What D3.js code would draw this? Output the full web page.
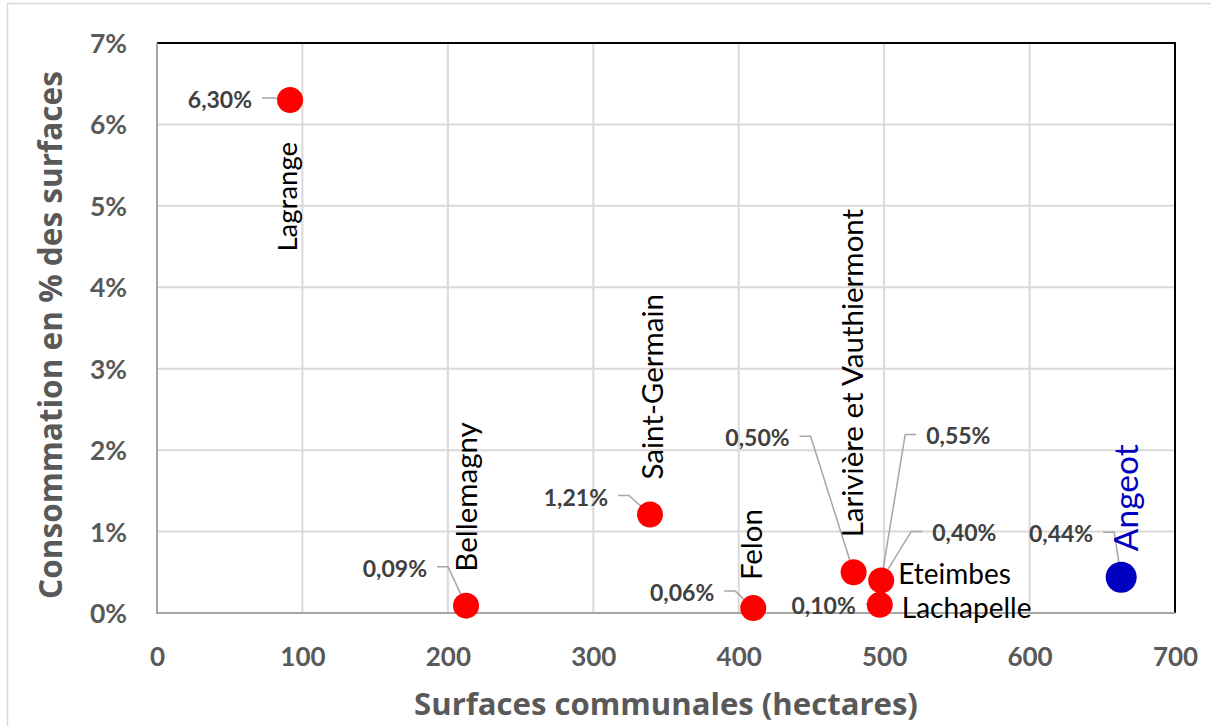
<!DOCTYPE html>
<html>
<head>
<meta charset="utf-8">
<script src="https://cdn.jsdelivr.net/npm/d3@7"></script>
<style>
  html, body { margin: 0; padding: 0; background: #fff; }
  svg { display: block; font-family: Lato, "Open Sans", sans-serif; }
</style>
</head>
<body>
<svg id="chart" width="1211" height="726"></svg>
<script>
// Communes: surface (hectares) and land consumption (share of surface)
const communes = ["Lagrange", "Bellemagny", "Saint-Germain", "Felon",
  "Larivière et Vauthiermont", "Eteimbes", "Lachapelle", "Angeot"];
const surfaces = [91.5, 212.5, 339, 410, 479, 498, 497, 663];
const consommation = [0.0630, 0.0009, 0.0121, 0.0006, 0.0050, 0.0040, 0.0010, 0.0044];
const highlight = [false, false, false, false, false, false, false, true];

// Extra callout value attached to the Eteimbes marker
const extraCallouts = [{ commune: "Eteimbes", value: 0.0055 }];

const xTicks = [0, 100, 200, 300, 400, 500, 600, 700];
const yTicks = [0, 0.01, 0.02, 0.03, 0.04, 0.05, 0.06, 0.07];
const xTitle = "Surfaces communales (hectares)";
const yTitle = "Consommation en % des surfaces";

// Label placement, in pixels relative to each marker centre
const namePlacement = {
  "Lagrange":                  { rot: true,  dx: 7,  dy: 42,  anchor: "end",   size: 27.5 },
  "Bellemagny":                { rot: true,  dx: 11, dy: -34, anchor: "start", size: 29.5 },
  "Saint-Germain":             { rot: true,  dx: 13, dy: -35, anchor: "start", size: 29.5 },
  "Felon":                     { rot: true,  dx: 9,  dy: -28, anchor: "start", size: 29.5 },
  "Larivière et Vauthiermont": { rot: true,  dx: 9,  dy: -35, anchor: "start", size: 29.5 },
  "Eteimbes":                  { rot: false, dx: 17, dy: 4,   anchor: "start", size: 28 },
  "Lachapelle":                { rot: false, dx: 22, dy: 13,  anchor: "start", size: 28 },
  "Angeot":                    { rot: true,  dx: 17, dy: -26, anchor: "start", size: 33.5 }
};
// value label: tx,ty = text anchor point relative to the marker
const valuePlacement = {
  "Lagrange":                  { tx: -38, ty: 0,    anchor: "end" },
  "Bellemagny":                { tx: -39, ty: -37,  anchor: "end" },
  "Saint-Germain":             { tx: -42, ty: -17,  anchor: "end" },
  "Felon":                     { tx: -39, ty: -15,  anchor: "end" },
  "Larivière et Vauthiermont": { tx: -64, ty: -134, anchor: "end" },
  "Eteimbes":                  { tx: 51,  ty: -47,  anchor: "start" },
  "Lachapelle":                { tx: -24, ty: 1,    anchor: "end", short: true },
  "Angeot":                    { tx: -28, ty: -43,  anchor: "end" }
};
const extraPlacement = [{ tx: 45, ty: -144, anchor: "start" }];

const svg = d3.select("#chart");
const plot = { left: 157, right: 1175, top: 43, bottom: 613 };

const x = d3.scaleLinear().domain([0, 700]).range([plot.left, plot.right]);
const y = d3.scaleLinear().domain([0, 0.07]).range([plot.bottom, plot.top]);

const fmtPct = v => d3.format(".2f")(v * 100).replace(".", ",") + "%";

// scale a text's font size so that it spans the given width
function fitWidth(sel, width) {
  const node = sel.node();
  const fs = parseFloat(sel.attr("font-size"));
  const w = node.getComputedTextLength();
  if (w > 0) sel.attr("font-size", (fs * width / w).toFixed(2));
  return sel;
}

// chart frame
svg.append("rect")
  .attr("x", 7.5).attr("y", 3.5).attr("width", 1220).attr("height", 740)
  .attr("fill", "none").attr("stroke", "#d9d9d9").attr("stroke-width", 1.5);

// gridlines
svg.append("g").selectAll("line").data(xTicks.slice(1, -1)).join("line")
  .attr("x1", d => x(d)).attr("x2", d => x(d))
  .attr("y1", plot.top).attr("y2", plot.bottom)
  .attr("stroke", "#d9d9d9").attr("stroke-width", 2);
svg.append("g").selectAll("line").data(yTicks.slice(1, -1)).join("line")
  .attr("x1", plot.left).attr("x2", plot.right)
  .attr("y1", d => y(d)).attr("y2", d => y(d))
  .attr("stroke", "#d9d9d9").attr("stroke-width", 2);

// plot border: black top/right, grey axes
svg.append("path")
  .attr("d", `M${plot.left},${plot.top}H${plot.right}V${plot.bottom}`)
  .attr("fill", "none").attr("stroke", "#000").attr("stroke-width", 2);
svg.append("path")
  .attr("d", `M${plot.left},${plot.top}V${plot.bottom}H${plot.right}`)
  .attr("fill", "none").attr("stroke", "#a6a6a6").attr("stroke-width", 2);

// axes
const xAxis = svg.append("g")
  .attr("transform", `translate(0,${plot.bottom})`)
  .call(d3.axisBottom(x).tickValues(xTicks).tickSize(0).tickPadding(0).tickFormat(d3.format("d")));
xAxis.select(".domain").remove();
xAxis.selectAll("text")
  .attr("y", 53).attr("dy", null)
  .attr("fill", "#595959").attr("font-size", 26).attr("font-weight", 700)
  .attr("font-family", "Lato");

const yAxis = svg.append("g")
  .attr("transform", `translate(${plot.left},0)`)
  .call(d3.axisLeft(y).tickValues(yTicks).tickSize(0).tickPadding(0).tickFormat(d3.format(".0%")));
yAxis.select(".domain").remove();
yAxis.selectAll("text")
  .attr("x", -30).attr("dy", "0.36em")
  .attr("fill", "#595959").attr("font-size", 26.5).attr("font-weight", 700)
  .attr("font-family", "Lato");

// axis titles
fitWidth(svg.append("text")
  .attr("x", 666).attr("y", 715)
  .attr("text-anchor", "middle")
  .attr("fill", "#595959").attr("font-size", 30).attr("font-weight", 700)
  .attr("font-family", "Open Sans")
  .text(xTitle), 504);
fitWidth(svg.append("text")
  .attr("transform", "translate(62,335) rotate(-90)")
  .attr("text-anchor", "middle")
  .attr("fill", "#595959").attr("font-size", 30).attr("font-weight", 700)
  .attr("font-family", "Open Sans")
  .text(yTitle), 528);

const points = communes.map((c, i) => ({
  name: c, sx: surfaces[i], v: consommation[i], hl: highlight[i],
  px: x(surfaces[i]), py: y(consommation[i])
}));
const byName = Object.fromEntries(points.map(p => [p.name, p]));

// leader lines
const leaders = svg.append("g")
  .attr("fill", "none").attr("stroke", "#a6a6a6").attr("stroke-width", 1.5);

function leaderPath(p, pl) {
  const lx = p.px + pl.tx + (pl.anchor === "end" ? 10 : -10);
  const ly = p.py + pl.ty - 2;
  if (pl.short) return `M${lx},${ly}L${p.px},${ly}`;
  const bx = lx + (pl.anchor === "end" ? 11 : -11);
  return `M${lx},${ly}L${bx},${ly}L${p.px},${p.py}`;
}

points.forEach(p => {
  leaders.append("path").attr("d", leaderPath(p, valuePlacement[p.name]));
});
extraCallouts.forEach((c, i) => {
  leaders.append("path").attr("d", leaderPath(byName[c.commune], extraPlacement[i]));
});

// markers
svg.append("g").selectAll("circle").data(points).join("circle")
  .attr("cx", d => d.px).attr("cy", d => d.py)
  .attr("r", d => d.hl ? 15.5 : 13)
  .attr("fill", d => d.hl ? "#0000c0" : "#ff0000");

// value labels
const vals = svg.append("g")
  .attr("fill", "#404040").attr("font-size", 23).attr("font-weight", 700);
points.forEach(p => {
  const pl = valuePlacement[p.name];
  vals.append("text")
    .attr("x", p.px + pl.tx).attr("y", p.py + pl.ty)
    .attr("dy", "0.35em").attr("text-anchor", pl.anchor)
    .text(fmtPct(p.v));
});
extraCallouts.forEach((c, i) => {
  const p = byName[c.commune], pl = extraPlacement[i];
  vals.append("text")
    .attr("x", p.px + pl.tx).attr("y", p.py + pl.ty)
    .attr("dy", "0.35em").attr("text-anchor", pl.anchor)
    .text(fmtPct(c.value));
});

// commune names
const names = svg.append("g");
points.forEach(p => {
  const pl = namePlacement[p.name];
  const tx = p.px + pl.dx, ty = p.py + pl.dy;
  names.append("text")
    .attr("transform", pl.rot ? `translate(${tx},${ty}) rotate(-90)` : `translate(${tx},${ty})`)
    .attr("text-anchor", pl.anchor)
    .attr("fill", p.hl ? "#0000c0" : "#000")
    .attr("font-size", pl.size)
    .text(p.name);
});
</script>
</body>
</html>
